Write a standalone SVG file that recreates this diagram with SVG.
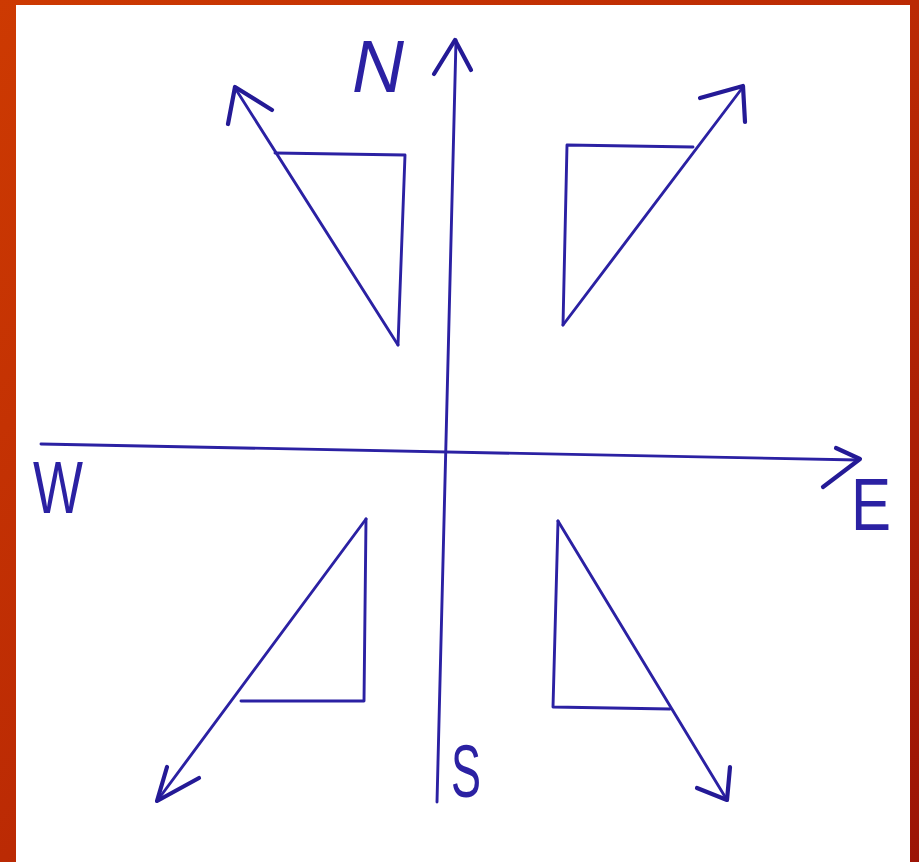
<svg xmlns="http://www.w3.org/2000/svg" width="919" height="862" viewBox="0 0 919 862">
  <defs>
    <linearGradient id="frame" x1="0" y1="0" x2="1" y2="1">
      <stop offset="0" stop-color="#cd3a02"/>
      <stop offset="0.5" stop-color="#bb2a04"/>
      <stop offset="1" stop-color="#9c1406"/>
    </linearGradient>
    <style>
      .ink{fill:none;stroke:#2b21a3;stroke-width:2.9;stroke-linecap:round;stroke-linejoin:round}
      .head{fill:none;stroke:#241a96;stroke-width:4.2;stroke-linecap:round;stroke-linejoin:round}
      .lbl{font-family:"Liberation Sans",Arial,sans-serif;fill:#2b21a3;font-size:74px}
    </style>
  </defs>
  <rect x="0" y="0" width="919" height="862" fill="url(#frame)"/>
  <rect x="16" y="5" width="894" height="857" fill="#ffffff"/>

  <g id="connectors">
    <path class="ink" d="M437 802 L456 40"/>
    <path class="head" d="M434 74 L455 40 L471 70"/>
    <path class="ink" d="M41 444 L858 460"/>
    <path class="head" d="M836 448 L860 459 L823 487"/>
  </g>

  <g id="nw">
    <path class="ink" d="M398 345 L235 88"/>
    <path class="ink" d="M275 153 L405 155 L398 345"/>
    <path class="head" d="M228 124 L235 87 L272 110"/>
  </g>

  <g id="ne">
    <path class="ink" d="M563 325 L743 87"/>
    <path class="ink" d="M693 147 L567 145 L563 325"/>
    <path class="head" d="M700 98 L743 86 L745 122"/>
  </g>

  <g id="sw">
    <path class="ink" d="M366 519 L157 801"/>
    <path class="ink" d="M241 701 L364 701 L366 519"/>
    <path class="head" d="M167 767 L157 801 L199 778"/>
  </g>

  <g id="se">
    <path class="ink" d="M558 521 L727 800"/>
    <path class="ink" d="M558 521 L553 707 L670 709"/>
    <path class="head" d="M730 767 L727 800 L697 788"/>
  </g>

  <g id="labels">
    <text class="lbl" x="352" y="92" font-style="italic" textLength="52" lengthAdjust="spacingAndGlyphs">N</text>
    <text class="lbl" x="33" y="513" textLength="50" lengthAdjust="spacingAndGlyphs">W</text>
    <text class="lbl" x="851" y="530" textLength="40" lengthAdjust="spacingAndGlyphs">E</text>
    <text class="lbl" x="451" y="797" textLength="30" lengthAdjust="spacingAndGlyphs">S</text>
  </g>
</svg>
